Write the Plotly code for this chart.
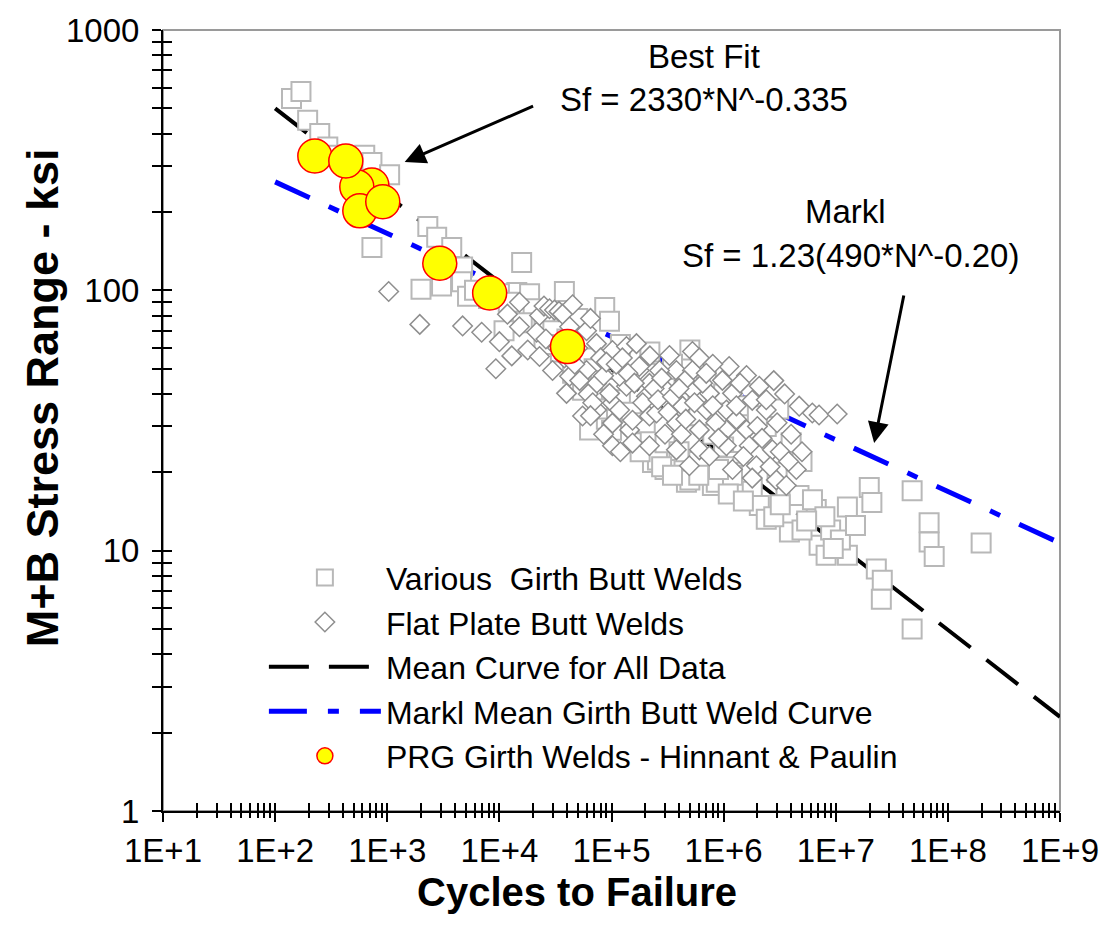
import math
import plotly.graph_objects as go

# ---------------- data ----------------
girth_N = [140, 170, 195, 250, 295, 350, 450, 630, 730, 1050, 730,
           2300, 2760, 3760, 4700, 2000, 3050, 4600, 5200, 6000, 8000,
           15800, 14300, 10000, 18600, 38000, 87000, 50000, 96000,
           5e5, 3.1e6, 2.4e6,
           12000, 20000, 25000, 30000, 40000, 55200, 63700, 60000, 70000, 80000,
           1.0e5, 1.2e5, 1.5e5, 2e5, 2.32e5, 2.57e5, 3e5, 4e5, 4.66e5, 5e5,
           7.94e5, 8.6e5, 1.38e6, 1.8e6, 3.6e6, 4.7e6, 2.08e6, 2.4e6, 3.86e6,
           7.1e6, 8.2e6, 1.27e7, 1.27e7, 6.7e6, 6.2e6, 1.99e7, 2.1e7, 4.8e7,
           6.8e7, 6.8e7, 7.55e7, 1.98e8, 2.3e7, 2.6e7, 2.55e7, 4.8e7,
           1.5e5, 2e5, 3e5, 4e5, 6e5, 8e5, 1e6, 1.3e6, 1.6e6, 1.2e5, 2.2e5,
           3.5e5, 7e5, 1e6, 1.5e6, 2e6, 1e6, 1.2e6, 3e6, 5e6, 4e6, 9e6, 1.1e7,
           1.5e7, 8e6, 5e6, 3e5, 6e5, 1.5e5, 9e4, 4.5e4, 3.5e4, 2.5e4, 1.6e4, 1.1e4,
           1.2e5, 1.8e5, 2.8e5, 3.5e5, 6e5, 9e5, 1.1e6, 1.5e6, 2.8e6, 3.2e6,
           5.5e6, 9.5e6, 7.5e4, 1.0e5]
girth_S = [545, 580, 450, 400, 355, 330, 320, 330, 310, 278, 146,
           176, 160, 146, 123, 101, 104, 108, 95, 100, 93,
           128, 98, 97, 97, 99, 86, 78, 76,
           59, 35, 30,
           90, 85, 76, 70, 65, 41.3, 29.1, 55, 50, 45,
           42, 38, 34, 31, 21.8, 22.3, 26, 24, 18.3, 18.7,
           17.8, 18.3, 17.2, 17.2, 16.4, 16.3, 14.9, 13.2, 11.8,
           10.5, 9.6, 9.6, 14.7, 14.4, 15.7, 17.5, 15.3, 17,
           12.8, 10.8, 9.5, 10.7, 8.5, 7.7, 6.5, 5.0,
           55, 48, 42, 37, 33, 28, 25, 22, 20, 62, 58,
           52, 45, 40, 36, 33, 21, 19.5, 20, 22, 26, 12, 11,
           12.5, 13.5, 12, 20.5, 22, 26, 32, 48, 58, 62, 75, 70,
           27, 24, 21, 19.5, 19.5, 20.5, 16.5, 15.5, 13.5, 15,
           13, 10.2, 35, 29]

plate_N = [1030, 1950, 4700, 6950, 9300, 10000, 11800, 15100, 15100, 12900,
           17900, 21500, 22800, 25000, 28000, 31000, 34000, 36600, 42300, 59900,
           73500, 102000, 136000, 167000, 22800, 29800, 42300, 59900, 73500, 39700,
           55200, 73500, 102000, 136000, 177000, 102000, 145000, 102000, 154000, 218000,
           205000, 329000, 527000, 379000, 527000, 1.12e6, 1.6e6, 2.08e6, 975000, 747000,
           527000, 1.2e6, 1.8e6, 2.4e6, 1.06e6, 702000, 430000, 309000, 218000, 252000,
           379000, 608000, 1.06e6, 1.6e6, 2.72e6, 1.69e6, 1.06e6, 608000, 379000, 218000,
           154000, 118000, 96000, 118000, 177000, 268000, 495000, 747000, 1.2e6, 1.96e6,
           2.95e6, 4.45e6, 3.62e6, 4.72e6, 6.18e6, 7.1e6, 1.03e7, 2.8e6, 3.5e6, 608000,
           800000, 4e6, 3e6, 2e6, 5e6, 800000, 300000, 450000, 80000, 50000,
           65000, 45000, 2.2e5, 1.4e6, 2.4e6,
           26000, 33000, 38000, 47000, 52000, 62000, 68000, 85000, 90000, 110000,
           125000, 140000, 160000, 190000, 240000, 260000, 280000, 320000, 350000, 400000,
           420000, 460000, 550000, 650000, 700000, 850000, 900000, 1.3e6, 1.3e6, 1.5e6,
           2.2e6, 2.6e6, 3.2e6, 3.8e6, 1.8e6, 85000, 120000, 65000]
plate_S = [99, 74, 73, 69, 50, 63.5, 81, 90, 72.5, 56,
           59, 69, 80, 87, 85, 84, 83, 81, 72.5, 70,
           62.4, 58.7, 60.8, 62.4, 55.7, 49.2, 46.8, 49.2, 43.9, 40.2,
           32.9, 34.7, 36.9, 42.8, 49.2, 30.9, 29.1, 25.3, 25.9, 32.9,
           39.2, 56.2, 58.2, 49.2, 49.2, 51.0, 47.1, 42.8, 45.1, 40.2,
           41.3, 40.2, 37.8, 34.7, 34.7, 34.7, 35.9, 41.3, 43.9, 33.8,
           30.9, 29.1, 29.1, 29.1, 24.4, 25.3, 25.3, 24.4, 24.4, 25.3,
           31.7, 34.7, 40.2, 46.8, 51.0, 49.2, 21.2, 23.1, 20.5, 21.2,
           18.7, 20.5, 17.8, 35.9, 33.8, 33.2, 33.5, 45, 40, 55,
           52, 28, 31, 30, 24, 36, 28, 45, 55, 60,
           78, 88, 56, 44, 38,
           65, 60, 55, 52, 45, 40, 37, 47, 53, 52,
           55, 48, 44, 37, 42, 38, 46, 34, 39, 42,
           28, 32, 37, 44, 48, 31, 27, 32, 36, 23,
           27, 21, 24, 22, 19, 28, 24, 33]

mean_N = [100, 1e9]
mean_S = [500, 2.3]

markl_N = [100, 1e9]
markl_S = [261, 10.7]

prg_N = [728, 535, 569, 912, 226, 427, 2940, 8190, 40500]
prg_S = [254, 250, 202, 219, 328, 314, 127, 97.7, 60.8]

x_tickvals = [1e1, 1e2, 1e3, 1e4, 1e5, 1e6, 1e7, 1e8, 1e9]
x_ticktext = ["1E+1", "1E+2", "1E+3", "1E+4", "1E+5", "1E+6", "1E+7", "1E+8", "1E+9"]
y_tickvals = [1, 10, 100, 1000]
y_ticktext = ["1", "10", "100", "1000"]

FONT = "Liberation Sans, Arial, sans-serif"

fig = go.Figure()

fig.add_trace(go.Scatter(x=mean_N, y=mean_S, mode="lines", name="Mean Curve for All Data",
                         line=dict(color="black", width=4, dash="40px,20px"), legendrank=3))
fig.add_trace(go.Scatter(x=markl_N, y=markl_S, mode="lines", name="Markl Mean Girth Butt Weld Curve",
                         line=dict(color="#0000ff", width=5, dash="38px,21px,11px,21px"), legendrank=4))
fig.add_trace(go.Scatter(x=girth_N, y=girth_S, mode="markers", name="Various  Girth Butt Welds",
                         marker=dict(symbol="square", size=19, color="white",
                                     line=dict(color="#b8b8b8", width=2)), legendrank=1))
fig.add_trace(go.Scatter(x=plate_N, y=plate_S, mode="markers", name="Flat Plate Butt Welds",
                         marker=dict(symbol="diamond", size=15, color="white",
                                     line=dict(color="#8e8e8e", width=1.5)), legendrank=2))
fig.add_trace(go.Scatter(x=prg_N, y=prg_S, mode="markers", name="PRG Girth Welds - Hinnant & Paulin",
                         marker=dict(symbol="circle", size=34, color="#ffff00",
                                     line=dict(color="#ff0000", width=1.5)), legendrank=5))
# helper trace for the overlay axes (tick crossing)
fig.add_trace(go.Scatter(x=[], y=[], xaxis="x2", yaxis="y2", showlegend=False, hoverinfo="skip"))

tickfont = dict(family=FONT, size=33, color="black")
annfont = dict(family=FONT, size=33, color="black")

fig.update_layout(
    width=1111, height=925,
    margin=dict(l=163, r=50, t=24, b=114),
    paper_bgcolor="white", plot_bgcolor="white",
    font=dict(family=FONT, color="black"),
    xaxis=dict(type="log", range=[1, 9], tickmode="array", tickvals=x_tickvals, ticktext=x_ticktext,
               ticks="outside", ticklen=9, tickwidth=2, tickcolor="black",
               showline=True, linecolor="black", linewidth=2, showgrid=False, zeroline=False,
               tickfont=tickfont, ticklabelstandoff=0,
               minor=dict(ticks="outside", ticklen=5, tickwidth=2, tickcolor="black", dtick="D1", showgrid=False)),
    yaxis=dict(type="log", range=[0, 3], tickmode="array", tickvals=y_tickvals, ticktext=y_ticktext,
               ticks="outside", ticklen=9, tickwidth=2, tickcolor="black",
               showline=True, linecolor="black", linewidth=2, showgrid=False, zeroline=False,
               tickfont=tickfont, ticklabelstandoff=6,
               minor=dict(ticks="outside", ticklen=9, tickwidth=2, tickcolor="black", dtick="D1", showgrid=False)),
    xaxis2=dict(type="log", range=[1, 9], overlaying="x", anchor="y2", side="bottom",
                tickmode="array", tickvals=x_tickvals, ticks="inside", ticklen=8, tickwidth=2,
                tickcolor="black", showticklabels=False, showline=False, showgrid=False, zeroline=False,
                minor=dict(ticks="inside", ticklen=8, tickwidth=2, tickcolor="black", dtick="D1", showgrid=False)),
    yaxis2=dict(type="log", range=[0, 3], overlaying="y", anchor="x2", side="left",
                tickmode="array", tickvals=y_tickvals, ticks="inside", ticklen=9, tickwidth=2,
                tickcolor="black", showticklabels=False, showline=False, showgrid=False, zeroline=False,
                minor=dict(ticks="inside", ticklen=9, tickwidth=2, tickcolor="black", dtick="D1", showgrid=False)),
    legend=dict(x=(264 - 163) / 898, y=0.334, xanchor="left", yanchor="top", bgcolor="rgba(0,0,0,0)",
                font=dict(family=FONT, size=32, color="black"), itemwidth=112, tracegroupgap=0),
    shapes=[dict(type="rect", xref="paper", yref="paper", x0=0, y0=0, x1=1, y1=1,
                 line=dict(color="#9a9a9a", width=2), layer="below")],
    annotations=[
        dict(xref="paper", yref="paper", x=0.461, y=-0.104, text="<b>Cycles to Failure</b>", showarrow=False,
             font=dict(family=FONT, size=40, color="black"), xanchor="center", yanchor="middle"),
        dict(xref="paper", yref="paper", x=-0.1347, y=0.5286, text="<b>M+B Stress Range - ksi</b>",
             showarrow=False, textangle=-90,
             font=dict(family=FONT, size=45, color="black"), xanchor="center", yanchor="middle"),
        dict(xref="paper", yref="paper", x=0.6036, y=0.966, text="Best Fit", showarrow=False,
             font=annfont, xanchor="center", yanchor="middle"),
        dict(xref="paper", yref="paper", x=0.6036, y=0.911, text="Sf = 2330*N^-0.335", showarrow=False,
             font=annfont, xanchor="center", yanchor="middle"),
        dict(xref="paper", yref="paper", x=0.7606, y=0.768, text="Markl", showarrow=False,
             font=annfont, xanchor="center", yanchor="middle"),
        dict(xref="paper", yref="paper", x=0.766, y=0.711, text="Sf = 1.23(490*N^-0.20)", showarrow=False,
             font=annfont, xanchor="center", yanchor="middle"),
        dict(xref="x", yref="y", x=math.log10(1430), y=math.log10(311), axref="x", ayref="y",
             ax=math.log10(20600), ay=math.log10(513), text="", showarrow=True,
             arrowhead=2, arrowsize=1.4, arrowwidth=3, arrowcolor="black"),
        dict(xref="x", yref="y", x=math.log10(2.2e7), y=math.log10(25.9), axref="x", ayref="y",
             ax=math.log10(4.07e7), ay=math.log10(96.8), text="", showarrow=True,
             arrowhead=2, arrowsize=1.4, arrowwidth=3, arrowcolor="black"),
    ],
)

fig.write_html("out.html")
